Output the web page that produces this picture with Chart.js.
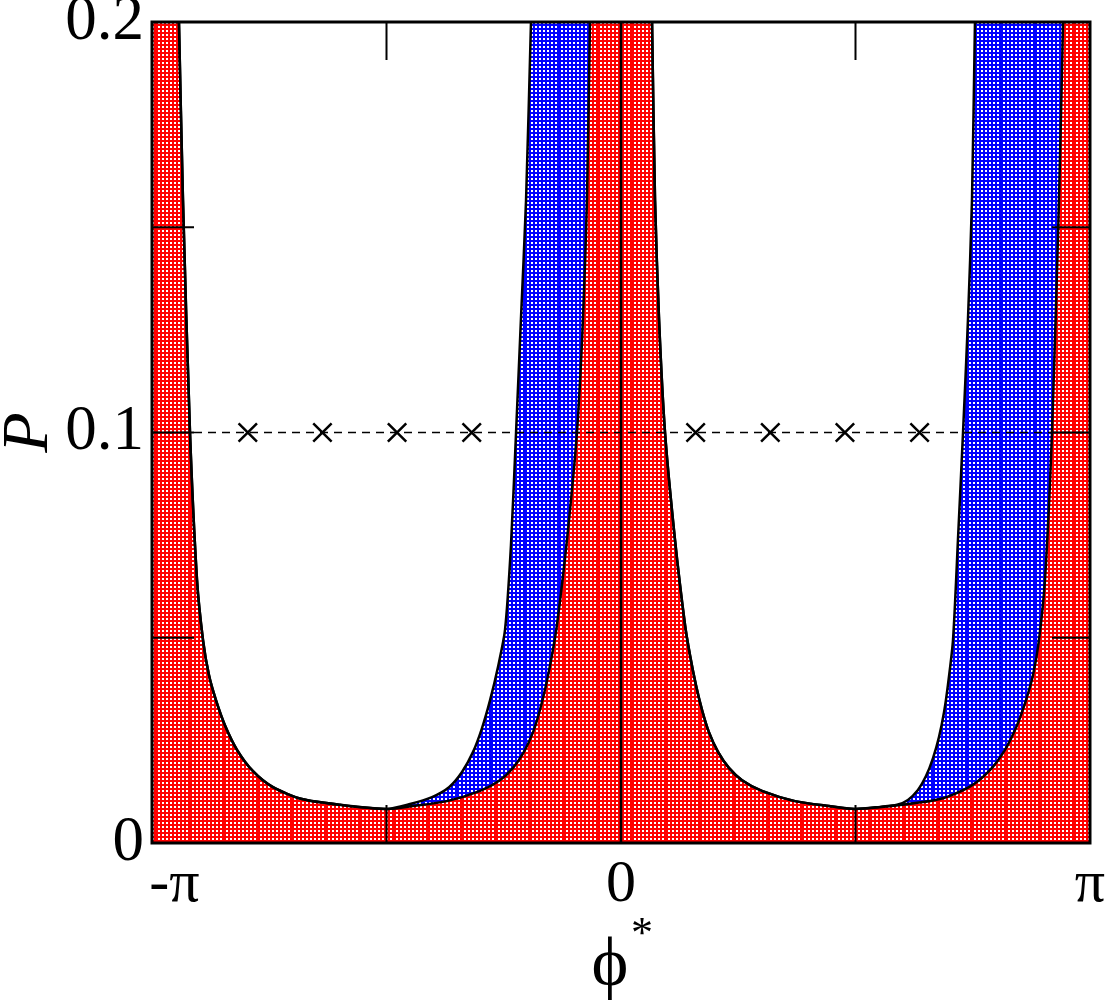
<!DOCTYPE html>
<html>
<head>
<meta charset="utf-8">
<script src="https://cdn.jsdelivr.net/npm/chart.js@4.4.0/dist/chart.umd.min.js"></script>
<style>
  html, body { margin: 0; padding: 0; background: #fff; }
  #wrap { width: 1109px; height: 1003px; }
</style>
</head>
<body>
<div id="wrap"><canvas id="chart"></canvas></div>
<script>
// Boundary curves (phi in radians, P)
// left lobe, lower edge of the white region
const whiteLeftPhi = [-2.961, -2.934, -2.887, -2.840, -2.800, -2.760, -2.713, -2.653, -2.572, -2.465, -2.331, -2.137, -1.882, -1.567,
  -1.413, -1.266, -1.152, -1.065, -0.991, -0.931, -0.877, -0.824, -0.777, -0.737, -0.703, -0.670, -0.636, -0.603];
const whiteLeftP   = [0.2, 0.1566, 0.1, 0.0641, 0.0495, 0.0409, 0.0348, 0.0287, 0.0227, 0.0175, 0.0136, 0.0107, 0.0093, 0.0083,
  0.0095, 0.0112, 0.0136, 0.0173, 0.0222, 0.0280, 0.0348, 0.0429, 0.0519, 0.0726, 0.1, 0.1279, 0.1566, 0.2];
// left lobe, lower edge of the blue region
const blueLeftPhi = [-2.961, -2.934, -2.887, -2.840, -2.800, -2.760, -2.713, -2.653, -2.572, -2.465, -2.331, -2.137, -1.882, -1.567,
  -1.393, -1.166, -0.944, -0.811, -0.723, -0.650, -0.589, -0.543, -0.502, -0.462, -0.429, -0.362, -0.295, -0.255, -0.228, -0.208];
const blueLeftP   = [0.2, 0.1566, 0.1, 0.0641, 0.0495, 0.0409, 0.0348, 0.0287, 0.0227, 0.0175, 0.0136, 0.0107, 0.0093, 0.0083,
  0.0090, 0.0102, 0.0127, 0.0153, 0.0183, 0.0222, 0.0270, 0.0324, 0.0385, 0.0458, 0.0531, 0.0738, 0.1, 0.1274, 0.1566, 0.2];
// right lobe, lower edge of the white region
const whiteRightPhi = [0.208, 0.228, 0.255, 0.295, 0.362, 0.429, 0.462, 0.502, 0.543, 0.589, 0.650, 0.723, 0.811, 0.944, 1.166, 1.393, 1.567,
  1.735, 1.849, 1.922, 1.989, 2.043, 2.090, 2.130, 2.164, 2.190, 2.224, 2.257, 2.291, 2.324, 2.351, 2.371];
const whiteRightP   = [0.2, 0.1566, 0.1274, 0.1, 0.0738, 0.0531, 0.0458, 0.0385, 0.0324, 0.0270, 0.0222, 0.0183, 0.0153, 0.0127, 0.0102, 0.0090, 0.0083,
  0.0088, 0.0093, 0.0105, 0.0129, 0.0163, 0.0207, 0.0258, 0.0319, 0.0385, 0.0495, 0.0738, 0.1, 0.1274, 0.1566, 0.2];
// right lobe, lower edge of the blue region
const blueRightPhi = [0.208, 0.228, 0.255, 0.295, 0.362, 0.429, 0.462, 0.502, 0.543, 0.589, 0.650, 0.723, 0.811, 0.944, 1.166, 1.393, 1.567,
  1.882, 2.137, 2.331, 2.465, 2.572, 2.653, 2.713, 2.760, 2.800, 2.840, 2.887, 2.934, 2.961];
const blueRightP   = [0.2, 0.1566, 0.1274, 0.1, 0.0738, 0.0531, 0.0458, 0.0385, 0.0324, 0.0270, 0.0222, 0.0183, 0.0153, 0.0127, 0.0102, 0.0090, 0.0083,
  0.0093, 0.0107, 0.0136, 0.0175, 0.0227, 0.0287, 0.0348, 0.0409, 0.0495, 0.0641, 0.1, 0.1566, 0.2];

// crosses on the dashed line P = 0.1
const markerPhi = [-2.5, -2.0, -1.5, -1.0, 0.5, 1.0, 1.5, 2.0];
const markerP = 0.1;

// axes
const xTickValues = [-Math.PI, -Math.PI / 2, 0, Math.PI / 2, Math.PI];
const xTickLabels = ['   -π', '', '0', '', 'π'];
const yTickValues = [0, 0.05, 0.1, 0.15, 0.2];
const yTickLabels = ['0', '', '0.1', '', '0.2'];
const innerXTicks = [-Math.PI / 2, Math.PI / 2];
const innerYTicks = [0.05, 0.1, 0.15];

const SERIF = '"Liberation Serif", "DejaVu Serif", serif';

function pts(xs, ys) {
  return xs.map((x, i) => ({ x: x, y: Array.isArray(ys) ? ys[i] : ys }));
}

// dotted hatch (2px white cells on colour) with solid lines, like the printed fill
function makePattern(color, dx, dy) {
  const w = 34, h = 128;
  const c = document.createElement('canvas');
  c.width = w; c.height = h;
  const g = c.getContext('2d');
  g.fillStyle = color;
  g.fillRect(0, 0, w, h);
  g.fillStyle = '#fff';
  for (let i = 1; i < w / 2; i++) {
    for (let j = 0; j < h / 2; j++) {
      if (i % 2 === 0 && j % 2 === 1) g.fillRect(i * 2, j * 2, 2, 2);
    }
  }
  const p = g.createPattern(c, 'repeat');
  p.setTransform(new DOMMatrix().translate(dx, dy));
  return p;
}
const redFill = makePattern('#ff0000', 18, 108);
const blueFill = makePattern('#0000ff', 13, 108);

const curve = {
  borderColor: '#000',
  borderWidth: 2.5,
  pointRadius: 0,
  tension: 0.25,
  fill: 'end'
};

// frame, inward ticks and the x title
const framePlugin = {
  id: 'framePlugin',
  afterDatasetsDraw(chart) {
    const { ctx, chartArea: a, scales: { x, y } } = chart;
    ctx.save();
    ctx.strokeStyle = '#000';
    ctx.lineWidth = 2;
    ctx.beginPath();
    innerXTicks.forEach(v => {
      const px = x.getPixelForValue(v);
      ctx.moveTo(px, a.top); ctx.lineTo(px, a.top + 38);
      ctx.moveTo(px, a.bottom); ctx.lineTo(px, a.bottom - 38);
    });
    innerYTicks.forEach(v => {
      const py = y.getPixelForValue(v);
      ctx.moveTo(a.left, py); ctx.lineTo(a.left + 42, py);
      ctx.moveTo(a.right, py); ctx.lineTo(a.right - 38, py);
    });
    ctx.stroke();
    ctx.lineWidth = 3;
    ctx.strokeRect(a.left, a.top, a.right - a.left, a.bottom - a.top);

    ctx.fillStyle = '#000';
    ctx.textAlign = 'center';
    ctx.textBaseline = 'alphabetic';
    ctx.font = '70px ' + SERIF;
    ctx.fillText('ϕ', 610, 985);
    ctx.font = '44px ' + SERIF;
    ctx.fillText('*', 642, 947);
    ctx.restore();
  }
};

new Chart(document.getElementById('chart'), {
  type: 'line',
  data: {
    datasets: [
      {
        data: pts(markerPhi, markerP),
        showLine: false,
        pointStyle: 'crossRot',
        pointRadius: 13,
        pointBorderWidth: 2.5,
        pointBorderColor: '#000',
        fill: false
      },
      {
        data: pts([-Math.PI, Math.PI], [0.1, 0.1]),
        borderColor: '#000',
        borderWidth: 1.5,
        borderDash: [8, 6],
        pointRadius: 0,
        fill: false
      },
      {
        data: pts([0, 0], [0, 0.2]),
        borderColor: '#000',
        borderWidth: 2.5,
        pointRadius: 0,
        fill: false
      },
      Object.assign({ data: pts(whiteRightPhi, whiteRightP), backgroundColor: '#fff' }, curve),
      Object.assign({ data: pts(whiteLeftPhi, whiteLeftP), backgroundColor: '#fff' }, curve),
      Object.assign({ data: pts(blueRightPhi, blueRightP), backgroundColor: blueFill }, curve),
      Object.assign({ data: pts(blueLeftPhi, blueLeftP), backgroundColor: blueFill }, curve),
      {
        data: pts([-Math.PI, Math.PI], [0.2, 0.2]),
        borderWidth: 0,
        pointRadius: 0,
        backgroundColor: redFill,
        fill: 'origin'
      }
    ]
  },
  options: {
    responsive: true,
    maintainAspectRatio: false,
    animation: false,
    layout: { padding: { top: 22, right: 19, left: 0, bottom: 0 } },
    plugins: {
      legend: { display: false },
      tooltip: { enabled: false },
      filler: { drawTime: 'beforeDatasetsDraw' }
    },
    scales: {
      x: {
        type: 'linear',
        min: -Math.PI,
        max: Math.PI,
        grid: { display: false, drawTicks: false },
        border: { display: false },
        afterBuildTicks: s => { s.ticks = xTickValues.map(v => ({ value: v })); },
        afterFit: s => { s.height = 160; s.paddingLeft = 0; s.paddingRight = 0; },
        ticks: {
          autoSkip: false,
          maxRotation: 0,
          padding: 6,
          color: '#000',
          font: { family: SERIF, size: 60 },
          callback: v => xTickLabels[xTickValues.findIndex(t => Math.abs(t - v) < 1e-9)]
        }
      },
      y: {
        min: 0,
        max: 0.2,
        grid: { display: false, drawTicks: false },
        border: { display: false },
        afterBuildTicks: s => { s.ticks = yTickValues.map(v => ({ value: v })); },
        afterFit: s => { s.width = 152; s.paddingTop = 0; s.paddingBottom = 0; },
        title: {
          display: true,
          text: 'P',
          color: '#000',
          padding: { top: 0, bottom: 0 },
          font: { family: SERIF, size: 66, style: 'italic', lineHeight: 0.9 }
        },
        ticks: {
          autoSkip: false,
          padding: 8,
          color: '#000',
          font: { family: SERIF, size: 63 },
          callback: v => yTickLabels[yTickValues.findIndex(t => Math.abs(t - v) < 1e-9)]
        }
      }
    }
  },
  plugins: [framePlugin]
});
</script>
</body>
</html>
